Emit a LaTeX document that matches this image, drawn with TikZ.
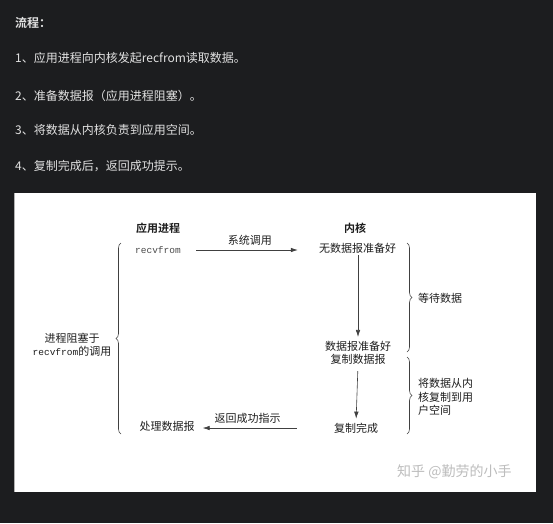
\documentclass[tikz,border=0pt]{standalone}
\usepackage{fontspec}
\newfontfamily\cjk[BoldFont={Noto Sans CJK SC Bold}]{Noto Sans CJK SC}
\newfontfamily\mono{Liberation Mono}
\usetikzlibrary{arrows.meta,decorations.pathreplacing}
\definecolor{pagebg}{HTML}{1C1D1F}
\definecolor{listtext}{HTML}{E2E2E2}
\definecolor{ink}{HTML}{1E1E1E}
\definecolor{mark}{HTML}{BDBDBD}
\begin{document}
\begin{tikzpicture}[x=1pt,y=-1pt,
  listline/.style={font=\cjk\fontsize{12}{14}\selectfont, text=listtext, anchor=west, inner sep=0pt},
  lbl/.style={font=\cjk\fontsize{11}{13.5}\selectfont, text=ink, inner sep=0pt, align=center},
  head/.style={lbl, font=\cjk\bfseries\fontsize{11}{13.5}\selectfont},
  code/.style={font=\mono\fontsize{9.5}{12}\selectfont, text=ink!80, inner sep=0pt},
  arr/.style={draw=ink!85, line width=0.6pt, -{Latex[length=7pt,width=4.5pt]}},
  bracebar/.style={draw=ink!85, line width=0.6pt, decorate, decoration={brace, amplitude=5pt}}
]
% page and white panel
\fill[pagebg] (0,0) rectangle (553,523);
\fill[white] (14,193) rectangle (536,492);
\draw[gray!60, line width=1pt] (14.5,193) -- (14.5,492);

% step list
\node[listline, font=\cjk\bfseries\fontsize{12}{14}\selectfont] (title) at (15,23) {流程：};
\node[listline] (s1) at (15,58) {1、应用进程向内核发起recfrom读取数据。};
\node[listline] (s2) at (15,96) {2、准备数据报（应用进程阻塞）。};
\node[listline] (s3) at (15,130) {3、将数据从内核负责到应用空间。};
\node[listline] (s4) at (15,166) {4、复制完成后，返回成功提示。};

% column heads
\node[head] (app) at (158,228) {应用进程};
\node[head] (kern) at (355,228) {内核};

% application side
\node[code] (recv) at (158,250) {recvfrom};
\node[lbl] (proc) at (167,426) {处理数据报};

% kernel side
\node[lbl] (nodata) at (357.5,248) {无数据报准备好};
\node[lbl] (ready) at (358,353) {数据报准备好\\复制数据报};
\node[lbl] (done) at (356,428) {复制完成};

% calls and returns
\draw[arr, shorten <=15pt, shorten >=21pt] (recv.east) -- (recv.east -| nodata.west)
  node[lbl, midway, above=4pt] (sys) {系统调用};
\draw[arr, shorten <=2pt, shorten >=4pt] (nodata.south -| ready.north) -- (ready.north);
\draw[arr, shorten <=6pt, shorten >=4pt] (ready.south) -- (done.north);
\draw[arr, shorten <=37pt, shorten >=8pt] (done.west) -- (done.west -| proc.east)
  node[lbl, pos=0.62, above=4pt] (ret) {返回成功指示};

% blocking brace
\coordinate (lb1) at (121,434);
\coordinate (lb2) at (121,243);
\draw[bracebar] (lb1) -- (lb2);
\node[lbl] (block) at (72,345) {进程阻塞于\\{\mono\fontsize{9.5}{12}\selectfont recvfrom}的调用};

% kernel braces
\coordinate (rb1) at (407,243);
\coordinate (rb2) at (407,352);
\coordinate (rb3) at (407,357);
\coordinate (rb4) at (407,434);
\draw[bracebar] (rb1) -- (rb2);
\draw[bracebar] (rb3) -- (rb4);
\node[lbl, anchor=west] (wait) at (418,298) {等待数据};
\node[lbl, anchor=west, align=left] (copy) at (418,397) {将数据从内\\核复制到用\\户空间};

% watermark
\node[font=\cjk\fontsize{14}{16}\selectfont, text=mark, inner sep=0pt, anchor=west] (wm) at (397,472) {知乎 @勤劳的小手};
\end{tikzpicture}
\end{document}
